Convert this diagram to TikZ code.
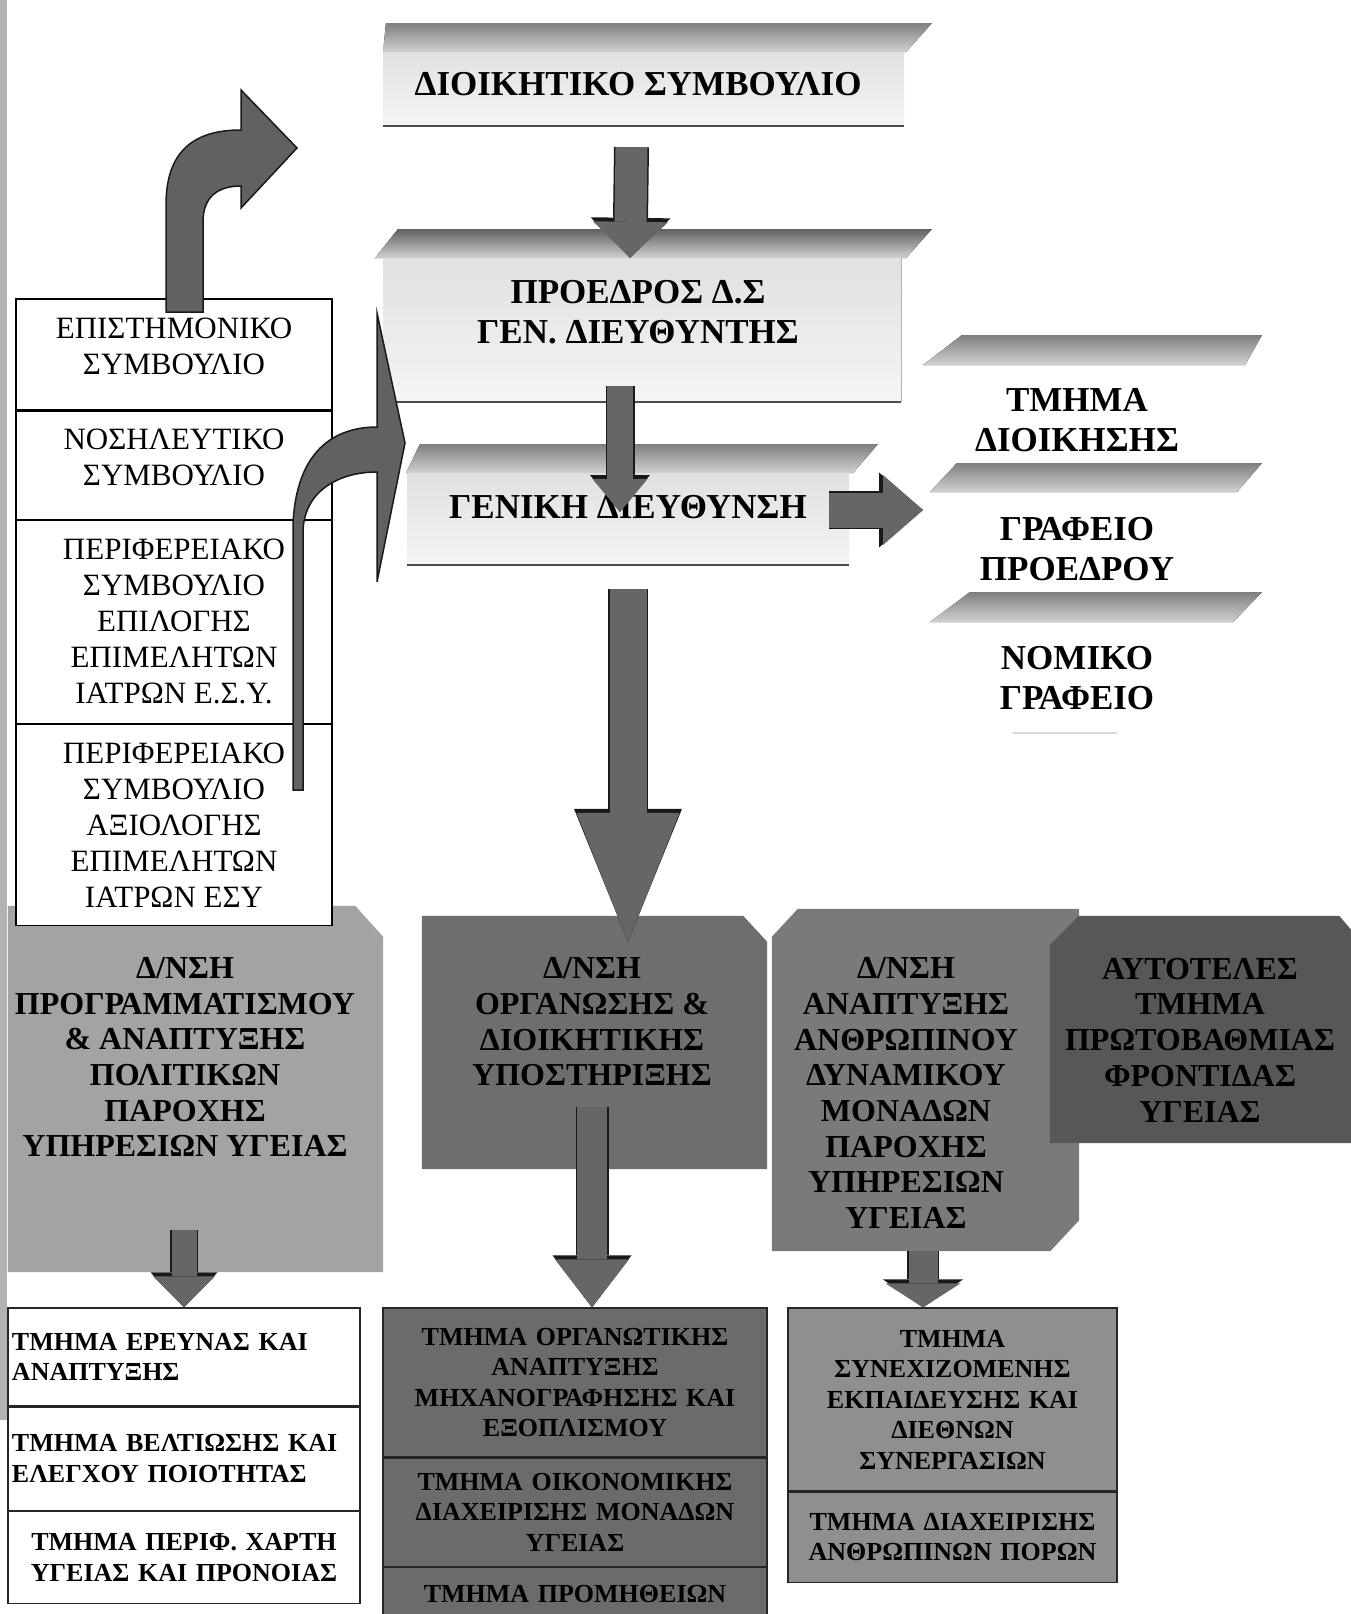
\documentclass[tikz,border=0pt]{standalone}
\usepackage{fontspec}
\setmainfont{Liberation Serif}
\usetikzlibrary{arrows.meta,positioning}

\newcommand{\titlefont}{\fontsize{35}{39.5}\selectfont\bfseries}
\newcommand{\councilfont}{\fontsize{31}{36}\selectfont}
\newcommand{\dirfont}{\fontsize{32}{35.7}\selectfont\bfseries}
\newcommand{\deptfont}{\fontsize{26}{30.5}\selectfont\bfseries}

\tikzset{
  band/.style={top color=black!50, bottom color=black!18},
  titlebody/.style={rectangle, inner sep=0pt, top color=black!12, bottom color=black!4},
  titletext/.style={align=center, font=\titlefont, inner sep=0pt},
  council/.style={draw=black, line width=1.2pt, fill=white, minimum width=316pt, inner sep=0pt, align=center, font=\councilfont},
  dirbox/.style={rectangle, inner sep=0pt},
  dirtext/.style={align=center, font=\dirfont, inner sep=0pt},
  dept/.style={draw=black!85, line width=1.2pt, inner ysep=0pt, inner xsep=4pt, font=\deptfont},
  blockarrow/.style n args={3}{
    preaction={draw=black!90, line width=#1+3pt, -{Triangle[width=#2+5pt,length=#3+4pt,line width=0pt]}},
    draw=black!60, line width=#1, -{Triangle[width=#2,length=#3,line width=0pt]}},
  curvearrow/.style={fill=black!62, draw=black!90, line width=1.5pt}
}

\begin{document}
\begin{tikzpicture}[x=1pt,y=-1pt]
    % Page
    \useasboundingbox (0,0) rectangle (1351,1614);
    \fill[white] (0,0) rectangle (1351,1614);
    \fill[black!30] (0,0) rectangle (7,1420);

    % Board
    \fill[band] (386,23) -- (932,23) -- (906,52) -- (383,52) -- cycle;
    \node[titlebody, minimum width=521pt, minimum height=74pt] (dsbox) at (643.5,89) {};
    \draw[black!70, line width=1.5pt] (dsbox.south west) -- (dsbox.south east);
    \node[titletext] (ds) at (638,84) {ΔΙΟΙΚΗΤΙΚΟ ΣΥΜΒΟΥΛΙΟ};

    % President
    \fill[band, top color=black!62] (398,229) -- (932,229) -- (906,258) -- (375,258) -- cycle;
    \node[titlebody, minimum width=518pt, minimum height=144pt] (presbox) at (642,330) {};
    \draw[black!70, line width=1.5pt] (presbox.south west) -- (presbox.south east);
    \draw[black!30] (presbox.north east) -- (presbox.south east);
    \node[titletext] (pres) at (638,312) {ΠΡΟΕΔΡΟΣ Δ.Σ\\ΓΕΝ. ΔΙΕΥΘΥΝΤΗΣ};
    \draw[blockarrow={32pt}{75pt}{36pt}] ([xshift=-12pt,yshift=-21pt]dsbox.south) -- ([xshift=-12pt]presbox.north);

    % General directorate
    \fill[band] (420,444) -- (878,444) -- (853,473) -- (406,473) -- cycle;
    \node[titlebody, minimum width=442pt, minimum height=92pt] (gdbox) at (628,519) {};
    \draw[black!70, line width=1.5pt] (gdbox.south west) -- (gdbox.south east);
    \node[titletext] (gd) at (628,507) {ΓΕΝΙΚΗ ΔΙΕΥΘΥΝΣΗ};
    \draw[blockarrow={26pt}{55pt}{33pt}] ([xshift=-22pt,yshift=16pt]presbox.south) -- ([xshift=-8pt,yshift=-5pt]gd.center);

    % Staff offices
    \fill[band] (962,335) -- (1262,335) -- (1245,365) -- (923,365) -- cycle;
    \fill[band] (957,463) -- (1262,463) -- (1237,492) -- (930,492) -- cycle;
    \fill[band] (970,592) -- (1262,592) -- (1233,622) -- (930,622) -- cycle;
    \node[titletext] (adm) at (1077,420) {ΤΜΗΜΑ\\ΔΙΟΙΚΗΣΗΣ};
    \node[titletext] (presoff) at (1077,549) {ΓΡΑΦΕΙΟ\\ΠΡΟΕΔΡΟΥ};
    \node[titletext] (legal) at (1077,678) {ΝΟΜΙΚΟ\\ΓΡΑΦΕΙΟ};
    \draw[black!15, line width=2pt] (1013,733) -- (1117,733);
    \coordinate (staff) at (923,510);
    \draw[blockarrow={35pt}{70pt}{40pt}] ([xshift=-20pt,yshift=9pt]gdbox.east) -- (staff);

    % Planning directorate (behind the councils)
    \node[dirbox, minimum width=375pt, minimum height=366pt] (progbox) at (195.5,1089) {};
    \fill[black!36] (progbox.south west) -- (progbox.north west) -- ([xshift=-28pt]progbox.north east)
        -- ([yshift=-31pt]progbox.north east) -- (progbox.south east) -- cycle;
    \node[dirtext] (prog) at (185,1057) {Δ/ΝΣΗ\\ΠΡΟΓΡΑΜΜΑΤΙΣΜΟΥ\\\& ΑΝΑΠΤΥΞΗΣ\\ΠΟΛΙΤΙΚΩΝ\\ΠΑΡΟΧΗΣ\\ΥΠΗΡΕΣΙΩΝ ΥΓΕΙΑΣ};

    % Councils
    \node[council, minimum height=111pt, text depth=16pt] (lc1) at (174,354.5) {ΕΠΙΣΤΗΜΟΝΙΚΟ\\ΣΥΜΒΟΥΛΙΟ};
    \node[council, minimum height=108pt, text depth=16pt, below=0pt of lc1] (lc2) {ΝΟΣΗΛΕΥΤΙΚΟ\\ΣΥΜΒΟΥΛΙΟ};
    \node[council, minimum height=203pt, below=0pt of lc2] (lc3) {ΠΕΡΙΦΕΡΕΙΑΚΟ\\ΣΥΜΒΟΥΛΙΟ\\ΕΠΙΛΟΓΗΣ\\ΕΠΙΜΕΛΗΤΩΝ\\ΙΑΤΡΩΝ Ε.Σ.Υ.};
    \node[council, minimum height=201pt, below=0pt of lc3] (lc4) {ΠΕΡΙΦΕΡΕΙΑΚΟ\\ΣΥΜΒΟΥΛΙΟ\\ΑΞΙΟΛΟΓΗΣ\\ΕΠΙΜΕΛΗΤΩΝ\\ΙΑΤΡΩΝ ΕΣΥ};

    % Bent arrows
    \draw[curvearrow] (166,312) -- (166,205) .. controls (166,150) and (195,130) .. (241,130)
        -- (241,90) -- (297,148) -- (241,208) -- (241,186)
        .. controls (220,186) and (203,195) .. (203,222) -- (203,312) -- cycle;
    \draw[curvearrow] (293,790) -- (293,525) .. controls (296,450) and (335,427) .. (377,427)
        -- (377,313) -- (405,443) -- (377,582) -- (377,472)
        .. controls (340,472) and (305,490) .. (303,530) -- (303,790) -- cycle;

    % Organisation directorate
    \node[dirbox, minimum width=345pt, minimum height=253pt] (orgbox) at (594.5,1042.5) {};
    \fill[black!57] (orgbox.south west) -- (orgbox.north west) -- ([xshift=-24pt]orgbox.north east)
        -- ([yshift=-26pt]orgbox.north east) -- (orgbox.south east) -- cycle;
    \node[dirtext] (org) at (592,1022) {Δ/ΝΣΗ\\ΟΡΓΑΝΩΣΗΣ \&\\ΔΙΟΙΚΗΤΙΚΗΣ\\ΥΠΟΣΤΗΡΙΞΗΣ};
    \draw[blockarrow={37pt}{103pt}{129pt}] ([yshift=-24pt]gdbox.south) -- ([xshift=33.5pt,yshift=-26pt]orgbox.north);

    % Human resources directorate
    \node[dirbox, minimum width=307pt, minimum height=342pt] (hrbox) at (925.5,1080) {};
    \fill[black!52] ([xshift=26pt]hrbox.north west) -- (hrbox.north east) -- ([yshift=31pt]hrbox.south east)
        -- ([xshift=-29pt]hrbox.south east) -- (hrbox.south west) -- ([yshift=-28pt]hrbox.north west) -- cycle;
    \node[dirtext] (hr) at (906,1093) {Δ/ΝΣΗ\\ΑΝΑΠΤΥΞΗΣ\\ΑΝΘΡΩΠΙΝΟΥ\\ΔΥΝΑΜΙΚΟΥ\\ΜΟΝΑΔΩΝ\\ΠΑΡΟΧΗΣ\\ΥΠΗΡΕΣΙΩΝ\\ΥΓΕΙΑΣ};

    % Primary care unit
    \node[dirbox, minimum width=301pt, minimum height=227pt] (phcbox) at (1200.5,1029.5) {};
    \fill[black!66] ([xshift=29pt]phcbox.north west) -- ([xshift=-12pt]phcbox.north east) -- ([yshift=-14pt]phcbox.north east)
        -- (phcbox.south east) -- (phcbox.south west) -- ([yshift=-29pt]phcbox.north west) -- cycle;
    \node[dirtext] (phc) at (1200,1040) {ΑΥΤΟΤΕΛΕΣ\\ΤΜΗΜΑ\\ΠΡΩΤΟΒΑΘΜΙΑΣ\\ΦΡΟΝΤΙΔΑΣ\\ΥΓΕΙΑΣ};

    % Departments
    \node[dept, fill=white, text width=344pt, align=left, minimum height=98pt] (l1a) at (184,1357) {ΤΜΗΜΑ ΕΡΕΥΝΑΣ ΚΑΙ\\ΑΝΑΠΤΥΞΗΣ};
    \node[dept, fill=white, text width=344pt, align=left, minimum height=103pt, below=0pt of l1a] (l1b) {ΤΜΗΜΑ ΒΕΛΤΙΩΣΗΣ ΚΑΙ\\ΕΛΕΓΧΟΥ ΠΟΙΟΤΗΤΑΣ};
    \node[dept, fill=white, text width=344pt, align=center, minimum height=92pt, below=0pt of l1b] (l1c) {ΤΜΗΜΑ ΠΕΡΙΦ. ΧΑΡΤΗ\\ΥΓΕΙΑΣ ΚΑΙ ΠΡΟΝΟΙΑΣ};

    \node[dept, fill=black!58, text width=376pt, align=center, minimum height=149pt] (l2a) at (575,1382.5) {ΤΜΗΜΑ ΟΡΓΑΝΩΤΙΚΗΣ\\ΑΝΑΠΤΥΞΗΣ\\ΜΗΧΑΝΟΓΡΑΦΗΣΗΣ ΚΑΙ\\ΕΞΟΠΛΙΣΜΟΥ};
    \node[dept, fill=black!58, text width=376pt, align=center, minimum height=108pt, below=0pt of l2a] (l2b) {ΤΜΗΜΑ ΟΙΚΟΝΟΜΙΚΗΣ\\ΔΙΑΧΕΙΡΙΣΗΣ ΜΟΝΑΔΩΝ\\ΥΓΕΙΑΣ};
    \node[dept, fill=black!58, text width=376pt, align=center, minimum height=54pt, below=0pt of l2b] (l2c) {ΤΜΗΜΑ ΠΡΟΜΗΘΕΙΩΝ};

    \node[dept, fill=black!44, text width=321pt, align=center, minimum height=183pt] (l3a) at (952.5,1399.5) {ΤΜΗΜΑ\\ΣΥΝΕΧΙΖΟΜΕΝΗΣ\\ΕΚΠΑΙΔΕΥΣΗΣ ΚΑΙ\\ΔΙΕΘΝΩΝ\\ΣΥΝΕΡΓΑΣΙΩΝ};
    \node[dept, fill=black!44, text width=321pt, align=center, minimum height=90pt, below=0pt of l3a] (l3b) {ΤΜΗΜΑ ΔΙΑΧΕΙΡΙΣΗΣ\\ΑΝΘΡΩΠΙΝΩΝ ΠΟΡΩΝ};

    % Arrows to departments
    \draw[blockarrow={25pt}{62pt}{31pt}] ([xshift=-11.5pt,yshift=42pt]progbox.south) -- (l1a.north);
    \draw[blockarrow={30pt}{74pt}{48pt}] ([xshift=-2.5pt,yshift=62pt]orgbox.south) -- ([xshift=17pt]l2a.north);
    \draw[blockarrow={29pt}{75pt}{24pt}] ([xshift=-2.5pt]hrbox.south) -- ([xshift=-29.5pt]l3a.north);
\end{tikzpicture}
\end{document}
